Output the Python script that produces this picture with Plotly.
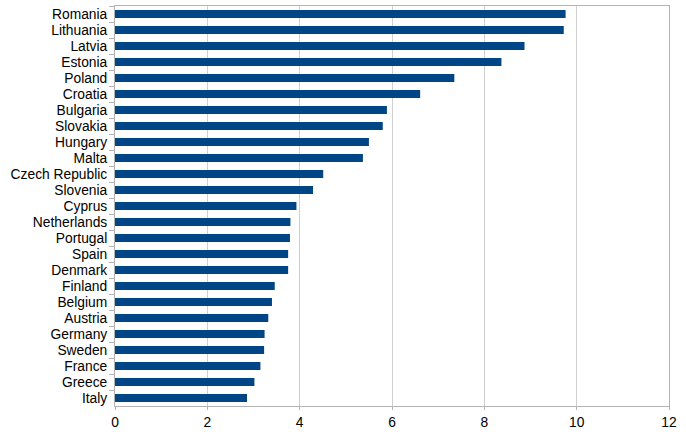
import plotly.graph_objects as go

countries = ["Romania", "Lithuania", "Latvia", "Estonia", "Poland", "Croatia",
             "Bulgaria", "Slovakia", "Hungary", "Malta", "Czech Republic",
             "Slovenia", "Cyprus", "Netherlands", "Portugal", "Spain", "Denmark",
             "Finland", "Belgium", "Austria", "Germany", "Sweden", "France",
             "Greece", "Italy"]
values = [9.76, 9.72, 8.87, 8.37, 7.35, 6.61, 5.89, 5.80, 5.50, 5.37, 4.51,
          4.29, 3.93, 3.80, 3.79, 3.75, 3.75, 3.46, 3.40, 3.32, 3.24, 3.23,
          3.15, 3.02, 2.86]
x_ticks = [0, 2, 4, 6, 8, 10, 12]

fig = go.Figure(go.Bar(
    x=values,
    y=countries,
    orientation="h",
    marker_color="#004586",
    marker_line_width=0,
))

fig.update_xaxes(range=[0, 12], tickvals=x_ticks, showgrid=True,
                 gridcolor="#cfcfcf", gridwidth=1, zeroline=False,
                 showline=True, linecolor="#b3b3b3", mirror=True,
                 ticks="outside", ticklen=3, tickcolor="#b3b3b3",
                 automargin=False)
fig.update_yaxes(autorange="reversed", type="category", showgrid=False,
                 tickmode="linear", dtick=1,
                 showline=True, linecolor="#b3b3b3", mirror=True,
                 ticks="outside", ticklen=5, tickcolor="#b3b3b3",
                 tickson="boundaries", ticklabelstandoff=4,
                 automargin=False)

fig.update_layout(
    width=686, height=436,
    margin=dict(l=115, r=17, t=6, b=30),
    bargap=0.5,
    plot_bgcolor="white", paper_bgcolor="white",
    font=dict(family="Liberation Sans", size=13.8, color="black"),
    showlegend=False,
)

# page body has a default 8px margin; remove it so the chart sits at 0,0
fig.write_html("out.html", config={"displayModeBar": False},
               post_script="document.body.style.margin='0';")
